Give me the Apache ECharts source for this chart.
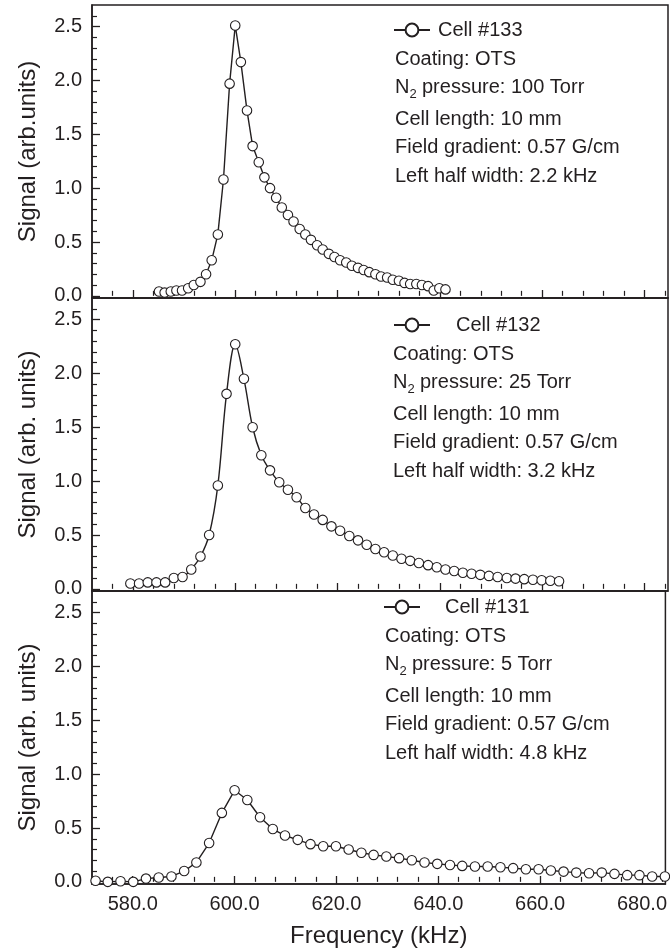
<!DOCTYPE html>
<html>
<head>
<meta charset="utf-8">
<script src="https://cdn.jsdelivr.net/npm/echarts@6/dist/echarts.min.js"></script>
<style>
html,body{margin:0;padding:0;background:#fff;}
#chart{width:670px;height:952px;}
</style>
</head>
<body>
<div id="chart"></div>
<script>
// ---- Data ----
// Panel 1: Cell #133
const freq133 = [585.1,586.2,587.4,588.5,589.6,590.8,591.9,593.2,594.3,595.4,596.6,597.7,598.9,600.0,601.1,602.3,603.4,604.6,605.7,606.8,608.0,609.1,610.3,611.4,612.6,613.7,614.8,616.0,617.1,618.3,619.4,620.5,621.7,622.8,624.0,625.1,626.2,627.4,628.5,629.7,630.8,632.0,633.1,634.2,635.4,636.5,637.7,638.8,639.9,641.1];
const sig133  = [0.04,0.03,0.04,0.05,0.05,0.07,0.10,0.13,0.20,0.33,0.57,1.08,1.97,2.51,2.17,1.72,1.39,1.24,1.10,1.00,0.91,0.82,0.75,0.69,0.62,0.57,0.52,0.47,0.43,0.39,0.36,0.33,0.31,0.28,0.26,0.24,0.22,0.20,0.18,0.17,0.15,0.14,0.12,0.11,0.11,0.10,0.09,0.05,0.07,0.06];
// Panel 2: Cell #132
const freq132 = [579.5,581.2,582.9,584.6,586.3,588.0,589.7,591.4,593.2,594.9,596.6,598.3,600.0,601.7,603.4,605.1,606.8,608.6,610.3,612.0,613.7,615.4,617.1,618.8,620.5,622.3,624.0,625.7,627.4,629.1,630.8,632.5,634.2,635.9,637.7,639.4,641.1,642.8,644.5,646.2,647.9,649.6,651.3,653.1,654.8,656.5,658.2,659.9,661.6,663.3];
const sig132  = [0.05,0.05,0.06,0.06,0.06,0.10,0.11,0.18,0.30,0.50,0.96,1.81,2.27,1.95,1.50,1.24,1.10,0.99,0.92,0.85,0.75,0.69,0.64,0.58,0.54,0.49,0.45,0.41,0.37,0.34,0.31,0.28,0.26,0.24,0.22,0.20,0.18,0.165,0.15,0.14,0.13,0.12,0.11,0.10,0.095,0.09,0.085,0.08,0.075,0.07];
// Panel 3: Cell #131
const freq131 = [572.7,575.1,577.6,580.1,582.6,585.1,587.6,590.1,592.5,595.0,597.5,600.0,602.5,605.0,607.5,609.9,612.4,614.9,617.4,619.9,622.4,624.9,627.3,629.8,632.3,634.8,637.3,639.8,642.3,644.7,647.2,649.7,652.2,654.7,657.2,659.7,662.1,664.6,667.1,669.6,672.1,674.6,677.1,679.5,682.0,684.5];
const sig131  = [0.01,0.00,0.005,0.00,0.03,0.04,0.05,0.10,0.18,0.36,0.64,0.85,0.76,0.60,0.49,0.43,0.39,0.35,0.33,0.33,0.30,0.27,0.25,0.235,0.22,0.20,0.18,0.167,0.157,0.148,0.142,0.142,0.136,0.127,0.117,0.117,0.105,0.095,0.086,0.08,0.086,0.074,0.062,0.062,0.05,0.05];

const xMajorTicks = [580,600,620,640,660,680];
const xMinorTicks = [576,584,588,592,596,604,608,612,616,624,628,632,636,644,648,652,656,664,668,672,676,684];
const yMajorTicks = [0,0.5,1.0,1.5,2.0,2.5];
const yMinorTicks = [0.1,0.2,0.3,0.4,0.6,0.7,0.8,0.9,1.1,1.2,1.3,1.4,1.6,1.7,1.8,1.9,2.1,2.2,2.3,2.4,2.6];

const cellNames = ['Cell #133','Cell #132','Cell #131'];
const yNames = ['Signal (arb.units)','Signal (arb. units)','Signal (arb. units)'];
const coatingText = 'Coating: OTS';
const pressureText = ['pressure: 100 Torr','pressure: 25 Torr','pressure: 5 Torr'];
const lengthText = 'Cell length: 10 mm';
const gradientText = 'Field gradient: 0.57 G/cm';
const widthText = ['Left half width: 2.2 kHz','Left half width: 3.2 kHz','Left half width: 4.8 kHz'];
const xName = 'Frequency (kHz)';

const freqs = [freq133, freq132, freq131];
const sigs = [sig133, sig132, sig131];

// ---- Layout ----
const FONT = '"Liberation Sans", Arial, Helvetica, sans-serif';
const INK = '#231f20';
const gridTops = [5, 298, 591];
const gridH = 293;
const X_MIN = 572, X_MAX = 684.6, Y_MIN = -0.02, Y_MAX = 2.7;
const textX = [395, 393, 385];
const legendX = [393, 393, 383];
const legendPad = [8, 26, 25];
const textTop = [31, 326, 608];
const rowOff = [0, 28, 56, 88, 116, 145];

const grids = [], xAxes = [], yAxes = [], series = [], legends = [], graphics = [];
for (let i = 0; i < 3; i++) {
  grids.push({left: 92, right: 2, top: gridTops[i], height: gridH, show: true,
    borderColor: INK, borderWidth: 1.5, backgroundColor: 'transparent'});
  const isBottom = i === 2;
  xAxes.push({
    gridIndex: i, type: 'value', min: X_MIN, max: X_MAX, position: 'bottom',
    axisLine: {show: true, onZero: false, lineStyle: {color: INK, width: 1.5}},
    axisTick: {show: true, inside: true, length: 8, customValues: xMajorTicks, lineStyle: {color: INK, width: 1.3}},
    axisLabel: {show: isBottom, customValues: xMajorTicks, formatter: v => v.toFixed(1),
      fontFamily: FONT, fontSize: 20, color: INK, margin: 10},
    splitLine: {show: false},
    name: isBottom ? xName : '', nameLocation: 'middle', nameGap: 40,
    nameTextStyle: {fontFamily: FONT, fontSize: 24, color: INK}
  });
  xAxes.push({
    gridIndex: i, type: 'value', min: X_MIN, max: X_MAX, position: 'bottom',
    axisLine: {show: false},
    axisTick: {show: true, inside: true, length: 5, customValues: xMinorTicks, lineStyle: {color: INK, width: 1.2}},
    axisLabel: {show: false}, splitLine: {show: false}
  });
  yAxes.push({
    gridIndex: i, type: 'value', min: Y_MIN, max: Y_MAX, position: 'left',
    axisLine: {show: true, onZero: false, lineStyle: {color: INK, width: 1.5}},
    axisTick: {show: true, inside: true, length: 8, customValues: yMajorTicks, lineStyle: {color: INK, width: 1.3}},
    axisLabel: {show: true, customValues: yMajorTicks, formatter: v => v.toFixed(1),
      fontFamily: FONT, fontSize: 20, color: INK, margin: 10},
    splitLine: {show: false},
    name: yNames[i], nameLocation: 'middle', nameGap: 52,
    nameTextStyle: {fontFamily: FONT, fontSize: 24, color: INK}
  });
  yAxes.push({
    gridIndex: i, type: 'value', min: Y_MIN, max: Y_MAX, position: 'left',
    axisLine: {show: false},
    axisTick: {show: true, inside: true, length: 5, customValues: yMinorTicks, lineStyle: {color: INK, width: 1.2}},
    axisLabel: {show: false}, splitLine: {show: false}
  });
  series.push({
    name: cellNames[i], type: 'line', xAxisIndex: 2 * i, yAxisIndex: 2 * i,
    data: freqs[i].map((f, k) => [f, sigs[i][k]]),
    smooth: i === 1 ? 0.35 : false,
    symbol: 'circle', symbolSize: 9.5, showSymbol: true,
    itemStyle: {color: '#fff', borderColor: INK, borderWidth: 1.1},
    lineStyle: {color: INK, width: 1.4},
    emphasis: {disabled: true}, animation: false, clip: false
  });
  legends.push({
    data: [cellNames[i]], left: legendX[i], top: textTop[i] + rowOff[0] - 11,
    itemWidth: 36, itemHeight: 16, itemGap: 0, selectedMode: false,
    textStyle: {fontFamily: FONT, fontSize: 20, color: INK, padding: [0, 0, 0, legendPad[i] - 5]},
    padding: 0
  });
  const tx = textX[i], ty = textTop[i];
  const mk = (txt, x, y, size) => ({type: 'text', x: x, y: y, silent: true,
    style: {text: txt, font: size + 'px ' + FONT, fill: INK, textVerticalAlign: 'middle', textAlign: 'left'}});
  graphics.push(mk(coatingText, tx, ty + rowOff[1], 20));
  graphics.push(mk('N', tx, ty + rowOff[2], 20));
  graphics.push(mk('2', tx + 14.5, ty + rowOff[2] + 7, 13));
  graphics.push(mk(pressureText[i], tx + 27, ty + rowOff[2], 20));
  graphics.push(mk(lengthText, tx, ty + rowOff[3], 20));
  graphics.push(mk(gradientText, tx, ty + rowOff[4], 20));
  graphics.push(mk(widthText[i], tx, ty + rowOff[5], 20));
}

const chart = echarts.init(document.getElementById('chart'), null, {renderer: 'canvas'});
chart.setOption({
  animation: false,
  backgroundColor: '#fff',
  grid: grids, xAxis: xAxes, yAxis: yAxes, series: series, legend: legends,
  graphic: graphics
});
</script>
</body>
</html>
